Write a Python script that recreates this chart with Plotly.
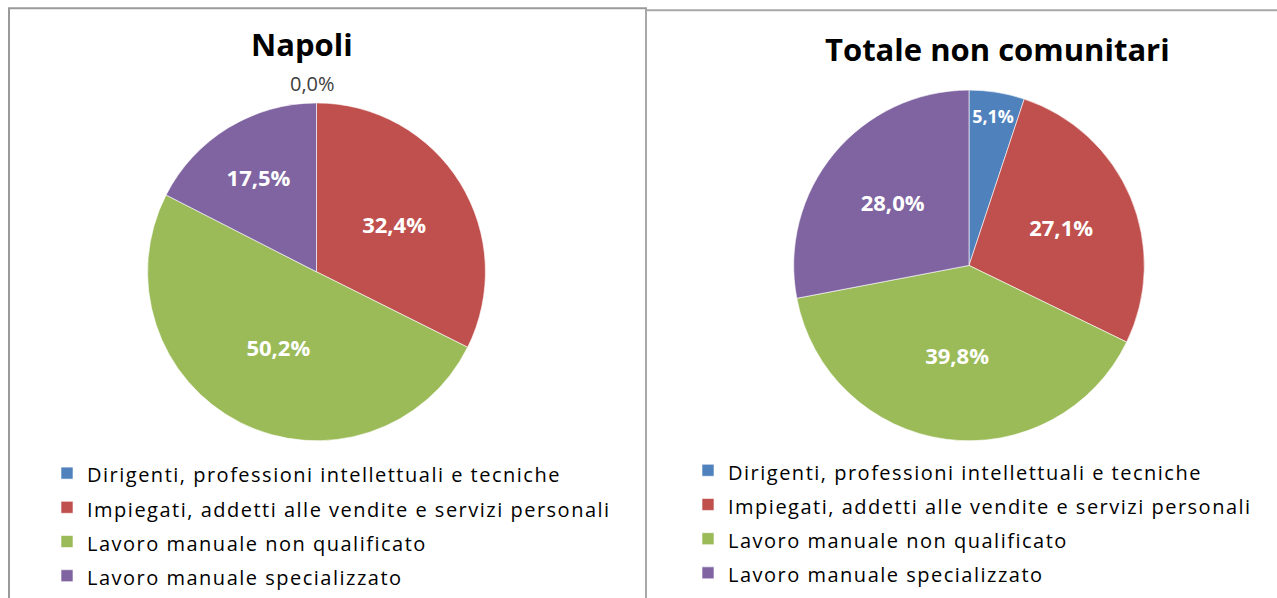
import plotly.graph_objects as go

W, H = 1277, 598

categories = [
    "Dirigenti, professioni intellettuali e tecniche",
    "Impiegati, addetti alle vendite e servizi personali",
    "Lavoro manuale non qualificato",
    "Lavoro manuale specializzato",
]
napoli_values = [0.0, 32.4, 50.2, 17.5]
totale_values = [5.1, 27.1, 39.8, 28.0]
titles = ["Napoli", "Totale non comunitari"]
colors = ["#4F81BD", "#C0504D", "#9BBB59", "#8064A2"]

FONT = "Open Sans"


def fmt(v):
    return f"{v:.1f}%".replace(".", ",")


def px_x(x):
    return x / W


def px_y(y):
    return 1 - y / H


fig = go.Figure()

legend_labels = [
    f"<span style='font-size:20px;letter-spacing:1.5px'>{c}</span>" for c in categories
]

for i, (vals, dom_x, dom_y, leg, grp) in enumerate([
    (napoli_values, [px_x(145), px_x(488)], [px_y(447.5), px_y(104.5)], "legend", "napoli"),
    (totale_values, [px_x(791), px_x(1147)], [px_y(447.5), px_y(91.5)], "legend2", "totale"),
]):
    fig.add_trace(go.Pie(
        labels=legend_labels,
        values=vals,
        text=[fmt(v) for v in vals],
        textinfo="text",
        textposition="inside",
        insidetextorientation="horizontal",
        textfont=dict(family=FONT, size=22, color="white", weight="bold"),
        marker=dict(colors=colors, line=dict(color="white", width=0.6)),
        sort=False,
        direction="clockwise",
        rotation=0,
        domain=dict(x=dom_x, y=dom_y),
        legend=leg,
        legendgroup=grp,
        hoverinfo="percent",
    ))

# zero-valued slice label (Plotly does not label empty slices)
zero_idx = [i for i, v in enumerate(napoli_values) if v == 0]
for zi in zero_idx:
    fig.add_annotation(
        x=px_x(312), y=px_y(85), xref="paper", yref="paper",
        xanchor="center", yanchor="middle",
        text=fmt(napoli_values[zi]), showarrow=False,
        font=dict(family=FONT, size=20, color="#404040"),
    )

# titles
fig.add_annotation(x=px_x(302), y=px_y(45), xref="paper", yref="paper",
                   xanchor="center", yanchor="middle",
                   text=f"<b>{titles[0]}</b>", showarrow=False,
                   font=dict(family=FONT, size=31, color="black"))
fig.add_annotation(x=px_x(997), y=px_y(50), xref="paper", yref="paper",
                   xanchor="center", yanchor="middle",
                   text=f"<b>{titles[1]}</b>", showarrow=False,
                   font=dict(family=FONT, size=31, color="black"))

# panel borders
fig.add_shape(type="rect", xref="paper", yref="paper",
              x0=px_x(9), x1=px_x(646), y0=px_y(620), y1=px_y(8.5),
              line=dict(color="#9A9A9A", width=2))
fig.add_shape(type="rect", xref="paper", yref="paper",
              x0=px_x(646), x1=px_x(1300), y0=px_y(620), y1=px_y(10.5),
              line=dict(color="#A8A8A8", width=2))

legend_common = dict(
    font=dict(family=FONT, size=24, color="black"),
    bgcolor="rgba(0,0,0,0)",
    xanchor="left", yanchor="top",
    itemclick=False, itemdoubleclick=False,
)

fig.update_layout(
    width=W, height=H,
    margin=dict(l=0, r=0, t=0, b=0),
    paper_bgcolor="white",
    plot_bgcolor="white",
    legend=dict(x=px_x(47), y=px_y(458), **legend_common),
    legend2=dict(x=px_x(688), y=px_y(455), **legend_common),
)

fig.write_html("out.html", config={"displayModeBar": False},
               post_script="document.body.style.margin='0px';")
